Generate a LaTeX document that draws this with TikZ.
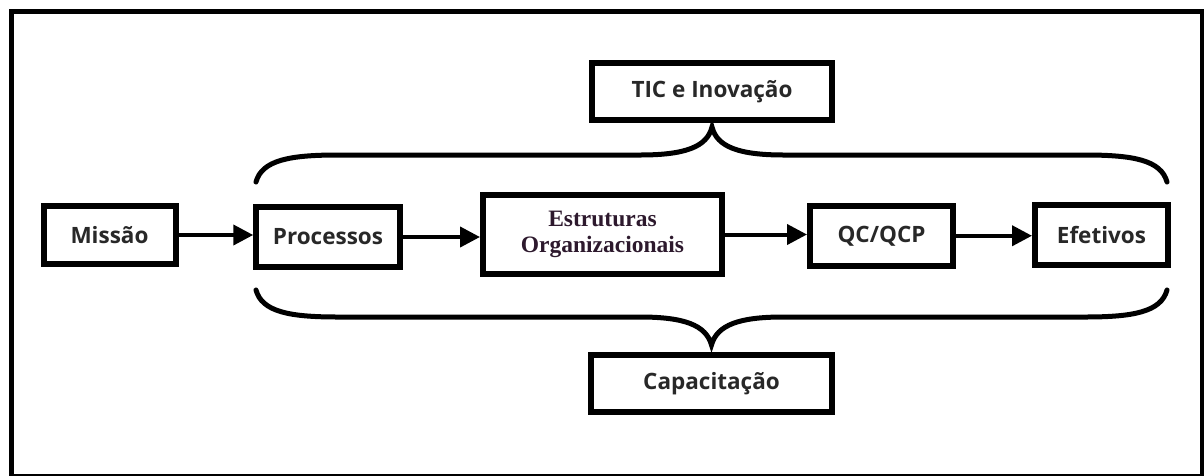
\documentclass[tikz,border=0pt]{standalone}
\usepackage{fontspec}
\setmainfont{Open Sans}
\newfontfamily\estrfont{Liberation Serif}
\usetikzlibrary{arrows.meta}
\definecolor{txt}{RGB}{40,40,40}
\definecolor{etxt}{RGB}{45,25,45}
\begin{document}
\begin{tikzpicture}[x=1pt,y=-1pt,
  box/.style={draw=black,line width=6pt,rectangle,inner sep=0pt,fill=white,
    text=txt,font=\fontsize{22.5}{26}\selectfont\bfseries},
  conn/.style={line width=4pt,-{Triangle[length=20pt,width=20pt]}},
  bracepath/.style={line width=5pt,line cap=round}]
\useasboundingbox (0,0) rectangle (1204,475);
\fill[white] (0,0) rectangle (1204,475);
\draw[line width=5pt] (11,11) rectangle (1202,476);
% nodes
\node[box,minimum width=132pt,minimum height=58pt] (missao) at (109.5,235) {Missão};
\node[box,minimum width=143.5pt,minimum height=60pt] (proc) at (328,237) {Processos};
\node[box,minimum width=239pt,minimum height=79pt,align=center,text=etxt,
  font=\estrfont\fontsize{23.5}{26.5}\selectfont\bfseries] (estr) at (602.5,234.5) {Estruturas\\Organizacionais};
\node[box,minimum width=143pt,minimum height=59.5pt] (qc) at (881.5,235.75) {QC/QCP};
\node[box,minimum width=133pt,minimum height=60pt] (efet) at (1101.5,235) {Efetivos};
\node[box,minimum width=239.5pt,minimum height=57pt] (tic) at (712,91.5) {TIC e Inovação};
\node[box,minimum width=241pt,minimum height=57pt] (cap) at (711.5,383.5) {Capacitação};
% connectors
\draw[conn] (missao.east) -- (missao.east -| proc.west);
\draw[conn] (proc.east) -- (proc.east -| estr.west);
\draw[conn] (estr.east) -- (estr.east -| qc.west);
\draw[conn] (qc.east) -- (qc.east -| efet.west);
% braces
\coordinate (tl) at (256,182);
\coordinate (tr) at (1167,182);
\coordinate (tt) at (712,127);
\coordinate (bl) at (256,290);
\coordinate (br) at (1167,290);
\coordinate (bt) at (711.5,345);
\draw[bracepath] (tl) .. controls (262,160) and (290,155) .. (338,155)
  -- (640,155) .. controls (685,155) and (707,147) .. (tt)
  .. controls (717,147) and (739,155) .. (784,155)
  -- (1085,155) .. controls (1133,155) and (1161,160) .. (tr);
\draw[bracepath] (bl) .. controls (262,312) and (290,317) .. (338,317)
  -- (640,317) .. controls (684,317) and (706,325) .. (bt)
  .. controls (717,325) and (739,317) .. (783,317)
  -- (1085,317) .. controls (1133,317) and (1161,312) .. (br);
\end{tikzpicture}
\end{document}
